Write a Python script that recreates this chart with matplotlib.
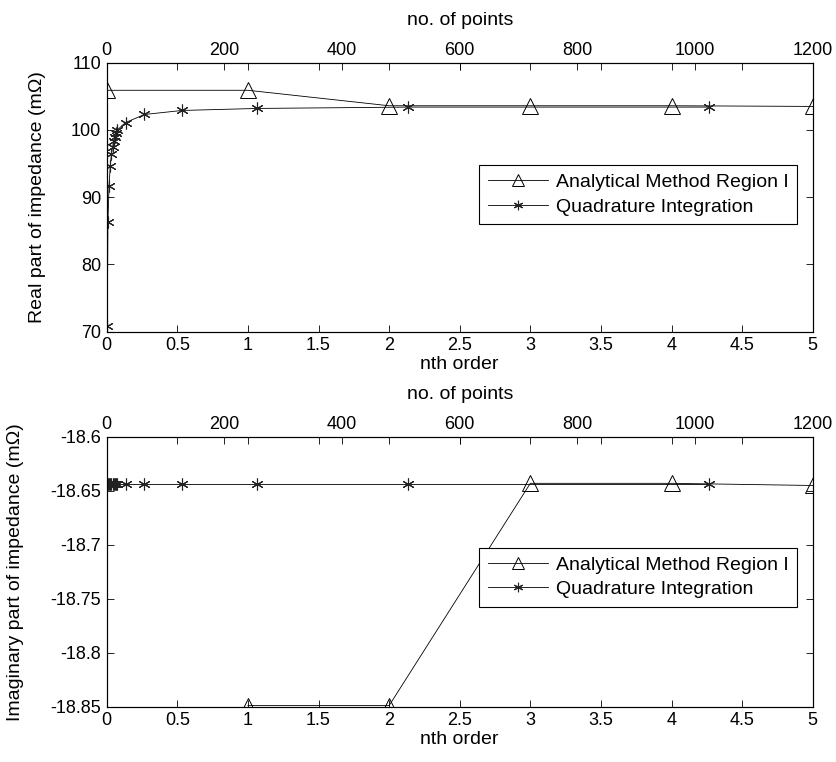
import numpy as np
import matplotlib.pyplot as plt
from matplotlib.ticker import FormatStrFormatter

plt.rcParams['font.family'] = ['Liberation Sans', 'DejaVu Sans']
plt.rcParams['font.size'] = 13

# analytical method vs. order n
order_real = [0, 1, 2, 3, 4, 5]
real_analytic = [105.9, 105.9, 103.6, 103.6, 103.6, 103.5]
order_imag = [1, 2, 3, 4, 5]
imag_analytic = [-18.849, -18.849, -18.643, -18.643, -18.645]

# quadrature integration vs. number of points
n_points = [1, 2, 4, 6, 8, 10, 12, 14, 16, 18, 32, 64, 128, 256, 512, 1024]
real_quad = [70.9, 86.3, 91.7, 94.6, 96.4, 97.5, 98.3, 99.0, 99.5, 100.0,
             101.1, 102.3, 102.9, 103.2, 103.4, 103.4]
imag_quad = [-18.644] * len(n_points)

order_ticks = [0, 0.5, 1, 1.5, 2, 2.5, 3, 3.5, 4, 4.5, 5]
point_ticks = [0, 200, 400, 600, 800, 1000, 1200]

ASTERISK = (6, 2, 0)


def make_panel(rect, x_an, y_an, y_q, ylim, yticks, ylabel, ylab_x, leg_top):
    ax = fig.add_axes(rect)
    ax2 = ax.twiny()
    l1, = ax.plot(x_an, y_an, '-', marker='^', color='k', lw=0.6, ms=11,
                  mfc='none', mew=0.7)
    l2, = ax2.plot(n_points, y_q, '-', marker=ASTERISK, color='k', lw=0.6,
                   ms=8.5, mec='#222222', mew=0.8)
    ax.set_xlim(0, 5)
    ax2.set_xlim(0, 1200)
    ax.set_ylim(*ylim)
    ax.set_xticks(order_ticks)
    ax.set_yticks(yticks)
    ax2.set_xticks(point_ticks)
    ax.xaxis.set_major_formatter(FormatStrFormatter('%g'))
    ax.yaxis.set_major_formatter(FormatStrFormatter('%g'))
    ax.tick_params(direction='in', top=True, right=True, length=5,
                   width=0.6, pad=4)
    ax2.tick_params(direction='in', length=5, width=0.6, pad=3)
    ax.set_xlabel('nth order', labelpad=1, fontsize=14)
    ax2.set_xlabel('no. of points', labelpad=12, fontsize=14)
    ax.set_ylabel(ylabel, fontsize=14)
    ax.yaxis.set_label_coords(ylab_x, 0.5)
    for a in (ax, ax2):
        for s in a.spines.values():
            s.set_linewidth(0.8)
    leg = ax2.legend([l1, l2], ['Analytical Method Region I',
                                'Quadrature Integration'],
                     loc='upper right', bbox_to_anchor=(0.978, leg_top),
                     fancybox=False, edgecolor='k', framealpha=1,
                     fontsize=14, handlelength=3.1, handletextpad=0.4,
                     borderpad=0.45, labelspacing=0.35, borderaxespad=0,
                     markerscale=0.8)
    leg.get_frame().set_linewidth(0.8)
    return ax


fig = plt.figure(figsize=(8.37, 7.62), dpi=100)

make_panel([0.1275, 0.5647, 0.8435, 0.353], order_real, real_analytic,
           real_quad, (70, 110), [70, 80, 90, 100, 110],
           'Real part of impedance (m\u03a9)', -0.086, 0.62)
make_panel([0.1275, 0.0726, 0.8435, 0.354], order_imag, imag_analytic,
           imag_quad, (-18.85, -18.6),
           [-18.85, -18.8, -18.75, -18.7, -18.65, -18.6],
           'Imaginary part of impedance (m\u03a9)', -0.117, 0.59)

fig.savefig('out.png', dpi=100)
